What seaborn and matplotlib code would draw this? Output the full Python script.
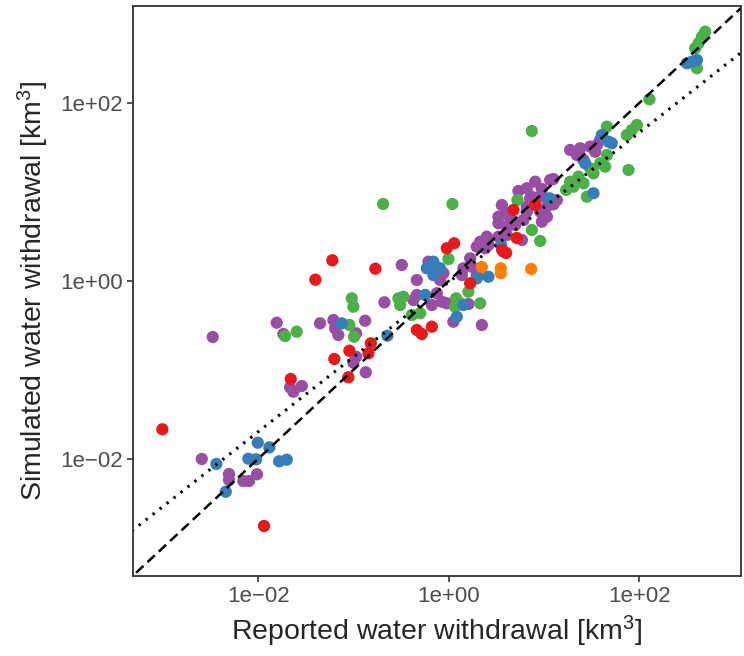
import seaborn as sns
import matplotlib as mpl
import matplotlib.pyplot as plt
import pandas as pd
import numpy as np

mpl.use('Agg')

# log10 of reported (x) and simulated (y) withdrawal, km3
purple_x = [-2.477, -1.805, -1.735, -1.350, -1.210, -1.192, -1.158, -0.877, -0.972, -1.000,
            -0.972, -0.870, -1.665, -1.630, -1.542, -2.592, -2.306, -2.306, -2.155, -2.096,
            -2.012, -0.674, -0.492, -0.334, -0.370, -0.334, -0.212, -0.142, -0.124, -0.071,
            -0.176, 0.050, 0.349, -0.019, 0.208, -0.055, -0.089, 0.226, 0.155, 0.244,
            0.296, 0.331, 0.383, 0.296, 0.401, 0.418, 0.523, 0.576, 0.611, 0.769,
            0.523, 0.646, 0.699, 0.611, 0.523, 0.786, 0.821, 0.559, 0.611, 0.821,
            0.961, 1.032, 1.101, 0.979, 1.032, 0.856, 0.961, 0.733, 0.821, 0.874,
            0.909, 0.979, 1.101, 1.066, 1.137, 1.276, 1.381, 1.486, 1.539, 1.347,
            1.416, 1.557, 1.591, 0.139]
purple_y = [-0.630, -0.469, -0.596, -0.476, -0.439, -0.532, -0.607, -0.447, -0.588, -0.919,
            -0.852, -1.027, -1.196, -1.245, -1.181, -2.002, -2.171, -2.238, -2.250, -2.250,
            -2.174, -0.240, 0.180, 0.011, -0.214, -0.157, 0.217, 0.105, -0.138, -0.233,
            -0.270, -0.458, -0.495, -0.251, -0.259, 0.087, 0.011, 0.255, 0.143, 0.161,
            0.067, 0.442, 0.368, 0.386, 0.498, 0.405, 0.498, 0.330, 0.517, 0.461,
            0.723, 0.705, 0.630, 0.611, 0.649, 0.686, 0.780, 0.855, 0.762, 0.836,
            0.780, 0.836, 0.863, 0.667, 0.723, 0.930, 0.948, 1.012, 1.043, 0.948,
            1.117, 1.035, 1.147, 1.136, 0.911, 1.474, 1.493, 1.511, 1.454, 1.417,
            1.361, 1.530, 1.586, 0.067]

green_x = [-1.717, -1.595, -1.042, -0.993, -1.017, -1.000, -0.688, 0.040, -0.527, -0.475,
           -0.509, -0.387, -0.299, -0.002, 0.079, 0.121, 0.068, 0.208, 0.331, 0.723,
           0.874, 0.961, 0.874, 1.234, 1.276, 1.311, 1.363, 1.416, 1.452, 1.486,
           1.521, 1.591, 1.644, 1.662, 1.662, 1.872, 1.924, 1.977, 1.889, 2.109,
           2.607, 2.589, 2.624, 2.660, 2.694]
green_y = [-0.619, -0.570, -0.495, -0.627, -0.195, -0.289, 0.866, 0.866, -0.195, -0.177,
           -0.270, -0.382, -0.363, 0.247, -0.195, -0.251, -0.289, -0.120, -0.251, 0.911,
           0.574, 0.450, 1.687, 1.024, 1.117, 1.061, 1.173, 1.099, 0.948, 1.268,
           1.211, 1.324, 1.286, 1.417, 1.736, 1.642, 1.699, 1.755, 1.249, 2.044,
           2.393, 2.618, 2.674, 2.748, 2.804]

blue_x = [-2.439, -2.340, -2.103, -2.022, -2.004, -1.882, -1.780, -1.700, -1.122, -0.643,
          -0.247, -0.229, -0.160, -0.089, -0.160, 0.086, 0.155, 0.296, 0.418, 0.551,
          1.059, 1.434, 1.521, 1.609, 1.679, 1.714, 2.502, 2.555, 2.607]
blue_y = [-2.058, -2.370, -1.999, -2.006, -1.819, -1.871, -2.028, -2.010, -0.476, -0.615,
          -0.157, 0.143, 0.217, 0.143, 0.067, -0.402, -0.270, 0.030, 0.048, 0.405,
          0.930, 1.324, 0.987, 1.642, 1.567, 1.549, 2.449, 2.467, 2.486]

red_x = [-3.006, -1.938, -1.658, -1.399, -1.221, -0.769, -1.200, -1.042, -0.817, -0.842,
         -1.053, -0.334, -0.282, -0.176, -0.019, 0.058, 0.226, 0.562, 0.604, 0.716,
         0.681, 0.909]
red_y = [-1.668, -2.756, -1.102, 0.015, 0.233, 0.138, -0.877, -0.784, -0.701, -0.813,
         -1.083, -0.551, -0.596, -0.514, 0.368, 0.424, -0.026, 0.349, 0.315, 0.484,
         0.799, 0.855]

orange_x = [0.349, 0.548, 0.548, 0.867]
orange_y = [0.157, 0.143, 0.087, 0.135]

# fitted power law shown as dotted line: log10(y) = slope*log10(x) + intercept
fit_slope = 0.841
fit_intercept = -0.014

groups = ["purple", "green", "blue", "red", "orange"]
palette = {"red": "#E41A1C", "blue": "#377EB8", "green": "#4DAF4A",
           "purple": "#984EA3", "orange": "#FF7F00"}
xs = [purple_x, green_x, blue_x, red_x, orange_x]
ys = [purple_y, green_y, blue_y, red_y, orange_y]

data = pd.concat([pd.DataFrame({"reported": 10 ** np.array(x), "simulated": 10 ** np.array(y), "group": g})
                  for g, x, y in zip(groups, xs, ys)], ignore_index=True)

sns.set_style("white")
plt.rcParams['font.family'] = ['Liberation Sans', 'DejaVu Sans']
plt.rcParams['mathtext.fontset'] = 'custom'
plt.rcParams['mathtext.rm'] = 'Liberation Sans'
plt.rcParams['mathtext.default'] = 'regular'

fig = plt.figure(figsize=(7.44, 6.56), dpi=100)
ax = fig.add_axes([133 / 744, 1 - 576 / 656, 608 / 744, 570 / 656])

sns.scatterplot(data=data, x="reported", y="simulated", hue="group", palette=palette,
                s=78, linewidth=0, alpha=1, legend=False, ax=ax)

xlim = (10 ** -3.314, 10 ** 3.07)
ylim = (10 ** -3.318, 10 ** 3.093)
line_x = np.logspace(-3.4, 3.2, 50)
ax.plot(line_x, line_x, color="black", lw=1.8, dashes=(4.0, 2.2))
ax.plot(line_x, 10 ** (fit_slope * np.log10(line_x) + fit_intercept), color="black",
        lw=2.2, dashes=(0.8, 2.1))

ax.set_xscale("log")
ax.set_yscale("log")
ax.set_xlim(xlim)
ax.set_ylim(ylim)
ticks = [1e-2, 1, 1e2]
tick_labels = ["1e\u221202", "1e+00", "1e+02"]
ax.set_xticks(ticks)
ax.set_xticklabels(tick_labels)
ax.set_yticks(ticks)
ax.set_yticklabels(tick_labels)
ax.minorticks_off()
ax.tick_params(axis="both", which="major", length=4, width=1.2, color="#333333",
               labelcolor="#4D4D4D", labelsize=16, pad=3, bottom=True, left=True)
for sp in ax.spines.values():
    sp.set_color("#333333")
    sp.set_linewidth(1.3)

ax.set_xlabel("Reported water withdrawal [km$^3$]", fontsize=20.5, labelpad=5)
ax.set_ylabel("Simulated water withdrawal [km$^3$]", fontsize=20.5, labelpad=7)

plt.savefig("out.png", dpi=100)
